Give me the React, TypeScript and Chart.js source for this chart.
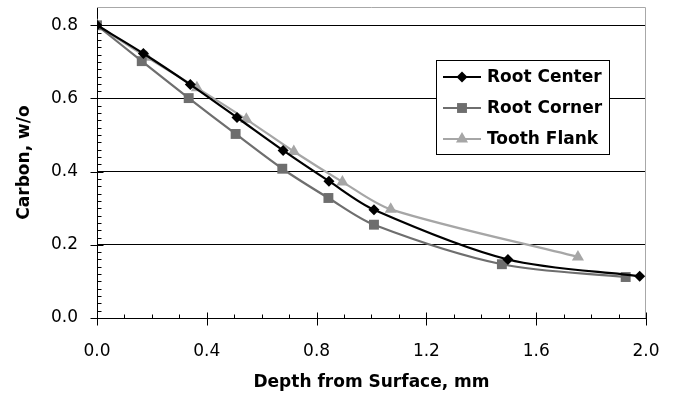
import React, { useEffect, useRef } from 'react';
import { Chart, registerables } from 'chart.js';

Chart.register(...registerables);

// ---- Data ----
const rootCenterDepth = [0, 0.169, 0.34, 0.51, 0.678, 0.845, 1.009, 1.497, 1.977];
const rootCenterCarbon = [0.8, 0.723, 0.638, 0.548, 0.458, 0.374, 0.296, 0.16, 0.114];

const rootCornerDepth = [0, 0.163, 0.334, 0.505, 0.675, 0.843, 1.009, 1.475, 1.926];
const rootCornerCarbon = [0.8, 0.702, 0.601, 0.503, 0.408, 0.328, 0.255, 0.147, 0.112];

const toothFlankDepth = [0, 0.181, 0.364, 0.544, 0.717, 0.894, 1.07, 1.752];
const toothFlankCarbon = [0.8, 0.713, 0.629, 0.543, 0.455, 0.372, 0.297, 0.167];

const seriesNames = ['Root Center', 'Root Corner', 'Tooth Flank'];
const xTickValues = [0, 0.4, 0.8, 1.2, 1.6, 2.0];
const yTickValues = [0, 0.2, 0.4, 0.6, 0.8];
const xMinorStep = 0.1;
const yMinorStep = 0.02;

const xTitle = 'Depth from Surface, mm';
const yTitle = 'Carbon, w/o';

// ---- Styles ----
const FONT = "'DejaVu Sans', 'Liberation Sans', Arial, sans-serif";
const colors = ['#000000', '#6e6e6e', '#a6a6a6'];
const pointStyles = ['rectRot', 'rect', 'triangle'];
const pointRadii = [5.5, 7, 7];

const toPoints = (xs: number[], ys: number[]) => xs.map((x, i) => ({ x, y: ys[i] }));

function drawMarker(ctx: CanvasRenderingContext2D, style: string, x: number, y: number, r: number) {
  ctx.beginPath();
  if (style === 'rectRot') {
    ctx.moveTo(x, y - r);
    ctx.lineTo(x + r, y);
    ctx.lineTo(x, y + r);
    ctx.lineTo(x - r, y);
  } else if (style === 'rect') {
    const s = r * Math.SQRT1_2;
    ctx.rect(x - s, y - s, 2 * s, 2 * s);
  } else {
    ctx.moveTo(x, y - r);
    ctx.lineTo(x + r * 0.866, y + r * 0.5);
    ctx.lineTo(x - r * 0.866, y + r * 0.5);
  }
  ctx.closePath();
  ctx.fill();
}

const framePlugin = {
  id: 'frame',
  beforeDatasetsDraw(chart: any) {
    const { ctx, chartArea } = chart;
    const xs = chart.scales.x;
    const ys = chart.scales.y;
    ctx.save();
    // gray top & right border of the plot area
    ctx.strokeStyle = '#a8a8a8';
    ctx.lineWidth = 1;
    ctx.beginPath();
    ctx.moveTo(chartArea.left, chartArea.top + 0.5);
    ctx.lineTo(chartArea.right - 0.5, chartArea.top + 0.5);
    ctx.lineTo(chartArea.right - 0.5, chartArea.bottom);
    ctx.stroke();

    ctx.strokeStyle = '#000';
    ctx.beginPath();
    // x minor ticks (inside) and major ticks (crossing)
    const xb = Math.round(chartArea.bottom) + 0.5;
    for (let v = 0; v <= 2.0001; v += xMinorStep) {
      const px = Math.round(xs.getPixelForValue(v)) + 0.5;
      const isMajor = xTickValues.some((t) => Math.abs(t - v) < 1e-6);
      if (isMajor) {
        ctx.moveTo(px, xb - 6);
        ctx.lineTo(px, xb + 7);
      } else {
        ctx.moveTo(px, xb - 4);
        ctx.lineTo(px, xb);
      }
    }
    // y minor ticks (inside) and major ticks (crossing)
    const yl = Math.round(chartArea.left) + 0.5;
    for (let v = 0; v <= 0.8001; v += yMinorStep) {
      const py = Math.round(ys.getPixelForValue(v)) + 0.5;
      const isMajor = yTickValues.some((t) => Math.abs(t - v) < 1e-6);
      if (isMajor) {
        ctx.moveTo(yl - 7, py);
        ctx.lineTo(yl + 6, py);
      } else {
        ctx.moveTo(yl, py);
        ctx.lineTo(yl + 4, py);
      }
    }
    ctx.stroke();
    ctx.restore();
  },
  afterDraw(chart: any) {
    const { ctx, chartArea } = chart;
    ctx.save();
    const boxL = chartArea.right - 210;
    const boxT = chartArea.top + 53;
    const boxW = 173;
    const boxH = 94;
    ctx.fillStyle = '#ffffff';
    ctx.fillRect(boxL, boxT, boxW, boxH);
    ctx.strokeStyle = '#000';
    ctx.lineWidth = 1;
    ctx.strokeRect(Math.round(boxL) + 0.5, Math.round(boxT) + 0.5, boxW, boxH);
    chart.data.datasets.forEach((ds: any, i: number) => {
      const cy = boxT + 17 + i * 31;
      const x0 = boxL + 7;
      const x1 = boxL + 45;
      ctx.strokeStyle = ds.borderColor;
      ctx.lineWidth = 2;
      ctx.beginPath();
      ctx.moveTo(x0, cy);
      ctx.lineTo(x1, cy);
      ctx.stroke();
      ctx.fillStyle = ds.backgroundColor;
      drawMarker(ctx, ds.pointStyle, (x0 + x1) / 2, cy, ds.pointRadius);
      ctx.fillStyle = '#000';
      ctx.font = `bold 17px ${FONT}`;
      ctx.textBaseline = 'middle';
      ctx.textAlign = 'left';
      ctx.fillText(ds.label, boxL + 51, cy + 1);
    });
    ctx.restore();
  },
};

export default function App() {
  const ref = useRef<HTMLCanvasElement>(null);
  useEffect(() => {
    document.body.style.margin = '0';
    const seriesData = [
      toPoints(rootCenterDepth, rootCenterCarbon),
      toPoints(rootCornerDepth, rootCornerCarbon),
      toPoints(toothFlankDepth, toothFlankCarbon),
    ];
    const chart = new Chart(ref.current as HTMLCanvasElement, {
      type: 'scatter',
      data: {
        datasets: seriesNames.map((name, i) => ({
          label: name,
          data: seriesData[i],
          showLine: true,
          borderColor: colors[i],
          backgroundColor: colors[i],
          borderWidth: 2.2,
          pointStyle: pointStyles[i] as any,
          pointRadius: pointRadii[i],
          pointBorderWidth: 0,
          tension: 0.3,
        })),
      },
      options: {
        animation: false,
        responsive: false,
        events: [],
        layout: { padding: { top: 7, right: 27, left: 0, bottom: 0 } },
        plugins: { legend: { display: false }, tooltip: { enabled: false } },
        scales: {
          x: {
            type: 'linear',
            min: 0,
            max: 2,
            afterBuildTicks: (s: any) => {
              s.ticks = xTickValues.map((v) => ({ value: v }));
            },
            afterFit: (s: any) => {
              s.height = 86;
              s.paddingLeft = 0;
              s.paddingRight = 0;
            },
            ticks: {
              callback: (v: any) => Number(v).toFixed(1),
              color: '#000',
              font: { family: FONT, size: 17 },
              padding: 23,
              maxRotation: 0,
            },
            grid: { display: false, drawTicks: false },
            border: { display: true, color: '#000', width: 1 },
            title: {
              display: true,
              text: xTitle,
              color: '#000',
              font: { family: FONT, size: 17, weight: 'bold' },
              padding: { top: 0, bottom: 11 },
            },
          },
          y: {
            type: 'linear',
            min: 0,
            max: 0.85,
            afterBuildTicks: (s: any) => {
              s.ticks = yTickValues.map((v) => ({ value: v }));
            },
            afterFit: (s: any) => {
              s.width = 97;
              s.paddingTop = 0;
              s.paddingBottom = 0;
            },
            ticks: {
              callback: (v: any) => Number(v).toFixed(1),
              color: '#000',
              font: { family: FONT, size: 17 },
              padding: 19,
            },
            grid: {
              drawTicks: false,
              color: (c: any) => (c.tick && c.tick.value === 0 ? 'rgba(0,0,0,0)' : '#000'),
              lineWidth: 1,
            },
            border: { display: true, color: '#000', width: 1 },
            title: {
              display: true,
              text: yTitle,
              color: '#000',
              font: { family: FONT, size: 17, weight: 'bold' },
              padding: { top: 14, bottom: 0 },
            },
          },
        },
      },
      plugins: [framePlugin],
    });
    return () => chart.destroy();
  }, []);
  return <canvas ref={ref} width={673} height={404} style={{ display: 'block' }} />;
}
